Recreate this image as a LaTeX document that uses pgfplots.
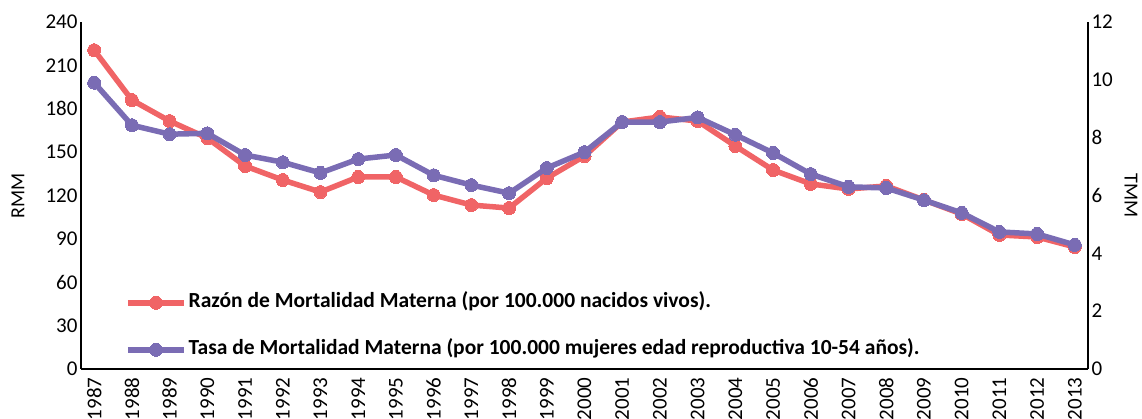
\documentclass[border=0pt]{standalone}
\usepackage{pgfplots}
\pgfplotsset{compat=1.18}
\usepackage{fontspec}
\setmainfont{Carlito}
\definecolor{cred}{RGB}{240,100,102}
\definecolor{cpur}{RGB}{122,108,180}
\begin{document}
\begin{tikzpicture}[x=1pt,y=1pt]
\useasboundingbox (0,0) rectangle (1142,419);
\pgfplotsset{
  every axis/.append style={
    at={(81pt,50pt)}, anchor=south west,
    scale only axis, width=1007pt, height=347pt,
    xmin=-0.35, xmax=26.35,
    major tick length=0pt,
    axis line style={-, line width=2.5pt, black},
    tick label style={font=\fontsize{21}{24}\selectfont},
    label style={font=\fontsize{20}{22}\selectfont},
    /pgf/number format/assume math mode=true,
  },
  ser/.style={color=#1, line width=5.5pt, mark=*, mark size=6.5pt, mark options={fill=#1, draw=#1, line width=0pt}},
  legend image code/.code={\draw[mark repeat=2,mark phase=2,#1] plot coordinates {(0pt,0pt) (28pt,0pt) (56pt,0pt)};},
}
\begin{axis}[
  ymin=0, ymax=240,
  axis x line*=bottom, axis y line*=left,
  ytick={0,30,...,240},
  xtick={0,...,26},
  xticklabels={1987,1988,1989,1990,1991,1992,1993,1994,1995,1996,1997,1998,1999,2000,2001,2002,2003,2004,2005,2006,2007,2008,2009,2010,2011,2012,2013},
  xticklabel style={rotate=90, anchor=east},
  xticklabel shift=5pt,
  ylabel={RMM},
  ylabel style={at={(axis description cs:-0.0626,0.5)}, anchor=center},
  legend style={draw=none, fill=none, inner sep=0pt, row sep=23pt,
    at={(axis description cs:0.0437,0.02)}, anchor=south west,
    font=\bfseries\fontsize{21.5}{24}\selectfont,
    nodes={inner sep=2pt, text height=15pt, text depth=5pt}},
  legend cell align=left,
]
\addplot[ser=cred] coordinates {
(0,220.5) (1,186) (2,171.5) (3,159.7) (4,140.4) (5,130.7) (6,122.4) (7,132.8) (8,132.8)
(9,120.3) (10,113.4) (11,111.3) (12,132) (13,147.3) (14,170.8) (15,174.3) (16,171.5)
(17,154.2) (18,137.6) (19,128) (20,124.5) (21,126.6) (22,116.9) (23,107.2) (24,92.7)
(25,91.3) (26,84.4)};
\addlegendentry{Razón de Mortalidad Materna (por 100.000 nacidos vivos).}
\addlegendimage{ser=cpur}
\addlegendentry{Tasa de Mortalidad Materna (por 100.000 mujeres edad reproductiva 10-54 años).}
\end{axis}
\begin{axis}[
  ymin=0, ymax=12,
  axis x line=none, axis y line*=right,
  ytick={0,2,...,12},
  ylabel={TMM},
  ylabel style={at={(axis description cs:1.0427,0.5)}, anchor=center, rotate=180},
]
\addplot[ser=cpur] coordinates {
(0,9.9) (1,8.43) (2,8.12) (3,8.15) (4,7.4) (5,7.15) (6,6.78) (7,7.26) (8,7.4)
(9,6.7) (10,6.36) (11,6.08) (12,6.95) (13,7.5) (14,8.54) (15,8.54) (16,8.7)
(17,8.1) (18,7.47) (19,6.74) (20,6.3) (21,6.26) (22,5.84) (23,5.4) (24,4.74)
(25,4.67) (26,4.29)};
\end{axis}
\end{tikzpicture}
\end{document}
